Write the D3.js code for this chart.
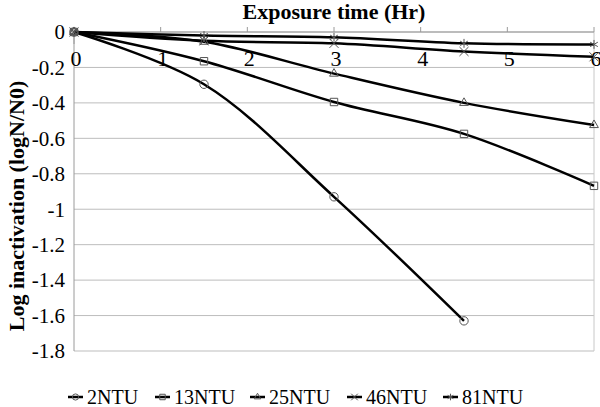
<!DOCTYPE html>
<html>
<head>
<meta charset="utf-8">
<script src="https://cdn.jsdelivr.net/npm/d3@7"></script>
</head>
<body style="margin:0">
<svg id="chart" width="600" height="407"></svg>
<script>
const hours = [0, 1.5, 3, 4.5, 6];
const xTicks = [0, 1, 2, 3, 4, 5, 6];
const yTicks = [0, -0.2, -0.4, -0.6, -0.8, -1, -1.2, -1.4, -1.6, -1.8];

const ntu2 = [0, -0.295, -0.93, -1.63];
const ntu13 = [0, -0.165, -0.395, -0.575, -0.868];
const ntu25 = [0, -0.055, -0.235, -0.4, -0.525];
const ntu46 = [0, -0.05, -0.064, -0.11, -0.14];
const ntu81 = [0, -0.02, -0.03, -0.064, -0.07];

const seriesNames = ["2NTU", "13NTU", "25NTU", "46NTU", "81NTU"];
const seriesValues = [ntu2, ntu13, ntu25, ntu46, ntu81];
const seriesSymbols = ["circle", "square", "triangle", "cross", "star"];

const width = 600, height = 407;
const margin = { top: 32, right: 6, bottom: 56, left: 74 };
const serif = "Liberation Serif";

const svg = d3.select("#chart");

const x = d3.scaleLinear().domain([0, 6]).range([margin.left, width - margin.right]);
const y = d3.scaleLinear().domain([0, -1.8]).range([margin.top, height - margin.bottom]);

// gridlines
svg.append("g")
  .selectAll("line")
  .data(yTicks)
  .join("line")
  .attr("x1", x(0))
  .attr("x2", x(6))
  .attr("y1", (d) => y(d))
  .attr("y2", (d) => y(d))
  .attr("stroke", "#bdbdbd")
  .attr("stroke-width", 1);

// plot frame (left and right)
svg.append("line")
  .attr("x1", x(0)).attr("x2", x(0))
  .attr("y1", y(0)).attr("y2", y(-1.8))
  .attr("stroke", "#9a9a9a");
svg.append("line")
  .attr("x1", x(6)).attr("x2", x(6))
  .attr("y1", y(0)).attr("y2", y(-1.8))
  .attr("stroke", "#c8c8c8");

// y axis labels
svg.append("g")
  .selectAll("text")
  .data(yTicks)
  .join("text")
  .attr("x", margin.left - 9)
  .attr("y", (d) => y(d))
  .attr("dy", "0.35em")
  .attr("text-anchor", "end")
  .attr("font-family", serif)
  .attr("font-size", 21)
  .text((d) => String(+d.toFixed(1)));

// x axis along y = 0
const xAxis = svg.append("g").attr("transform", `translate(0,${y(0)})`);
xAxis.append("line")
  .attr("x1", x(0)).attr("x2", x(6))
  .attr("stroke", "#9a9a9a");
xAxis.selectAll("line.tick")
  .data(xTicks)
  .join("line")
  .attr("class", "tick")
  .attr("x1", (d) => x(d)).attr("x2", (d) => x(d))
  .attr("y1", 0).attr("y2", (d) => (d === 0 ? 12 : -5))
  .attr("stroke", "#9a9a9a");
xAxis.selectAll("text")
  .data(xTicks)
  .join("text")
  .attr("x", (d) => x(d) + 2)
  .attr("y", 34)
  .attr("text-anchor", "middle")
  .attr("font-family", serif)
  .attr("font-size", 22)
  .text((d) => String(d));

// titles
svg.append("text")
  .attr("x", (x(0) + x(6)) / 2)
  .attr("y", 19)
  .attr("text-anchor", "middle")
  .attr("font-family", serif)
  .attr("font-weight", "bold")
  .attr("font-size", 22)
  .text("Exposure time (Hr)");

svg.append("text")
  .attr("transform", `translate(24,206) rotate(-90)`)
  .attr("text-anchor", "middle")
  .attr("font-family", serif)
  .attr("font-weight", "bold")
  .attr("font-size", 22)
  .text("Log inactivation (logN/N0)");

// lines
const line = d3.line()
  .x((d, i) => x(hours[i]))
  .y((d) => y(d))
  .curve(d3.curveCatmullRom.alpha(0.5));

const symbolPath = (name, size) => {
  if (name === "circle") return d3.symbol(d3.symbolCircle, size)();
  if (name === "square") return d3.symbol(d3.symbolSquare, size)();
  if (name === "triangle") return d3.symbol(d3.symbolTriangle2, size)();
  if (name === "cross") return d3.symbol(d3.symbolX, size)();
  return d3.symbol(d3.symbolAsterisk, size)();
};

const plot = svg.append("g");
seriesValues.forEach((vals) => {
  plot.append("path")
    .attr("d", line(vals))
    .attr("fill", "none")
    .attr("stroke", "#000")
    .attr("stroke-width", 2.5);
});
seriesValues.forEach((vals, si) => {
  plot.append("g")
    .selectAll("path")
    .data(vals)
    .join("path")
    .attr("transform", (d, i) => `translate(${x(hours[i])},${y(d)})`)
    .attr("d", symbolPath(seriesSymbols[si], 55))
    .attr("fill", "none")
    .attr("stroke", "#555")
    .attr("stroke-width", 1);
});

// legend
const legendX = [68, 155, 250, 347, 443];
const legend = svg.append("g").attr("transform", `translate(0,397)`);
seriesNames.forEach((name, i) => {
  const g = legend.append("g").attr("transform", `translate(${legendX[i]},0)`);
  g.append("line").attr("x1", 0).attr("x2", 15).attr("stroke", "#000").attr("stroke-width", 2.5);
  g.append("path")
    .attr("transform", "translate(7.5,0)")
    .attr("d", symbolPath(seriesSymbols[i], 30))
    .attr("fill", "none")
    .attr("stroke", "#555");
  g.append("text")
    .attr("x", 19)
    .attr("dy", "0.35em")
    .attr("font-family", serif)
    .attr("font-size", 20)
    .text(name);
});
</script>
</body>
</html>
